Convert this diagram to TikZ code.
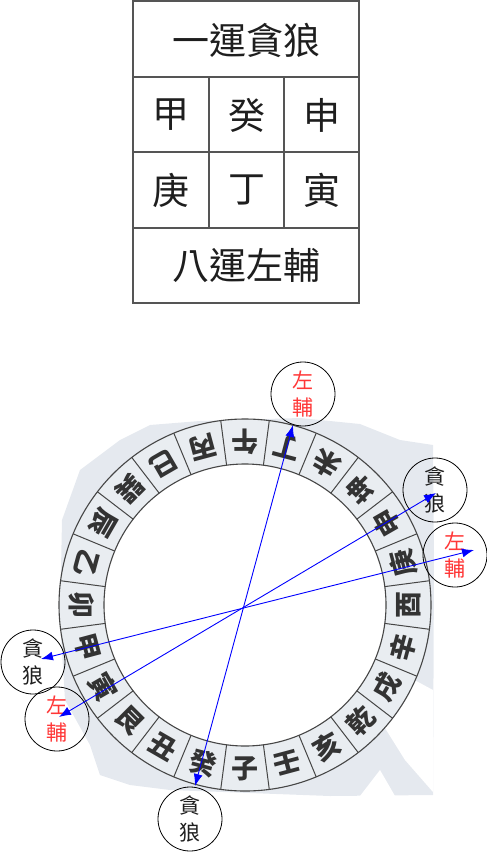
\documentclass[tikz,border=0pt]{standalone}
\usepackage{fontspec}
\newfontfamily\cjk{Noto Sans CJK TC}
\usetikzlibrary{arrows.meta,calc}
\definecolor{ringfill}{RGB}{233,237,241}
\definecolor{mapfill}{RGB}{229,233,239}
\definecolor{ringline}{RGB}{70,70,70}
\definecolor{tblline}{RGB}{85,85,85}
\definecolor{zred}{RGB}{255,55,55}
\definecolor{tgray}{RGB}{30,30,30}
\tikzset{
  tbl/.style={draw=tblline, line width=1.2pt},
  bigtxt/.style={font=\cjk\fontsize{37}{40}\selectfont, text=tgray, inner sep=0pt},
  mount/.style={font=\cjk\bfseries\fontsize{27}{28}\selectfont, text=black!80, inner sep=0pt},
  star/.style={circle, draw=black, line width=0.8pt, minimum size=64pt, inner sep=0pt, align=center, font=\cjk\fontsize{21}{27}\selectfont},
  wolf/.style={star, text=tgray},
  assist/.style={star, text=zred},
  link/.style={draw=blue, line width=0.9pt, {Latex[length=12pt,width=9pt]}-{Latex[length=12pt,width=9pt]}},
}
\begin{document}
\begin{tikzpicture}[x=1pt,y=-1pt]
\useasboundingbox (0,0) rectangle (487,852);
% ---- table ----
\draw[tbl] (133,1) rectangle (359,303);
\draw[tbl] (133,77) -- (359,77);
\draw[tbl] (133,152) -- (359,152);
\draw[tbl] (133,228) -- (359,228);
\draw[tbl] (209,77) -- (209,228);
\draw[tbl] (284,77) -- (284,228);
\node[bigtxt] (r1) at (246,40) {一運貪狼};
\node[bigtxt] (c11) at (171,115) {甲};
\node[bigtxt] (c12) at (246.5,115) {癸};
\node[bigtxt] (c13) at (321.5,115) {申};
\node[bigtxt] (c21) at (171,190) {庚};
\node[bigtxt] (c22) at (246.5,190) {丁};
\node[bigtxt] (c23) at (321.5,190) {寅};
\node[bigtxt] (r4) at (246,266) {八運左輔};
% ---- background map ----
\fill[mapfill] (120,440) -- (150,425) -- (200,421) -- (300,418) -- (360,424) -- (400,440) -- (433,445)
  -- (434,560) -- (433,795) -- (330,796) -- (250,793) -- (170,790) -- (130,785) -- (100,775)
  -- (90,745) -- (65,700) -- (60,620) -- (62,520) -- (80,470) -- (100,455) -- cycle;
\fill[white] (433,690) -- (405,675) -- (380,720) -- (405,760) -- (433,792) -- cycle;
\fill[white] (360,796) -- (380,770) -- (395,796) -- cycle;
% ---- ring ----
\coordinate (O) at (245,605);
\fill[ringfill, draw=ringline, line width=1.1pt] (O) circle[radius=186pt];
\fill[white, draw=ringline, line width=1.1pt] (O) circle[radius=141pt];
\foreach \k in {0,...,23}{
  \draw[ringline, line width=1pt] ($(O)+(97.5+15*\k:141pt)$) -- ($(O)+(97.5+15*\k:186pt)$);
}
\foreach \a/\ch [count=\i] in {90/午,75/丁,60/未,45/坤,30/申,15/庚,0/酉,-15/辛,-30/戌,-45/乾,-60/亥,-75/壬,-90/子,-105/癸,-120/丑,-135/艮,-150/寅,-165/甲,180/卯,165/乙,150/辰,135/巽,120/巳,105/丙}{
  \node[mount, rotate=\a+90] (m\i) at ($(O)+(\a:163.5pt)$) {\ch};
}
% ---- star circles ----
\node[assist] (zt) at (303,394) {左\\輔};
\node[wolf]   (wr) at (435,490) {貪\\狼};
\node[assist] (zr) at (455,555) {左\\輔};
\node[wolf]   (wl) at (33,662) {貪\\狼};
\node[assist] (zl) at (57,719) {左\\輔};
\node[wolf]   (wb) at (190,819) {貪\\狼};
% arrow end points
\coordinate (pzt) at (293,425);
\coordinate (pwb) at (195,786);
\coordinate (pwr) at (436,493);
\coordinate (pzl) at (59,717);
\coordinate (pzr) at (474,550);
\coordinate (pwl) at (41,659);
\draw[link] (pzt) -- (pwb);
\draw[link] (pzl) -- (pwr);
\draw[link] (pwl) -- (pzr);
\end{tikzpicture}
\end{document}
